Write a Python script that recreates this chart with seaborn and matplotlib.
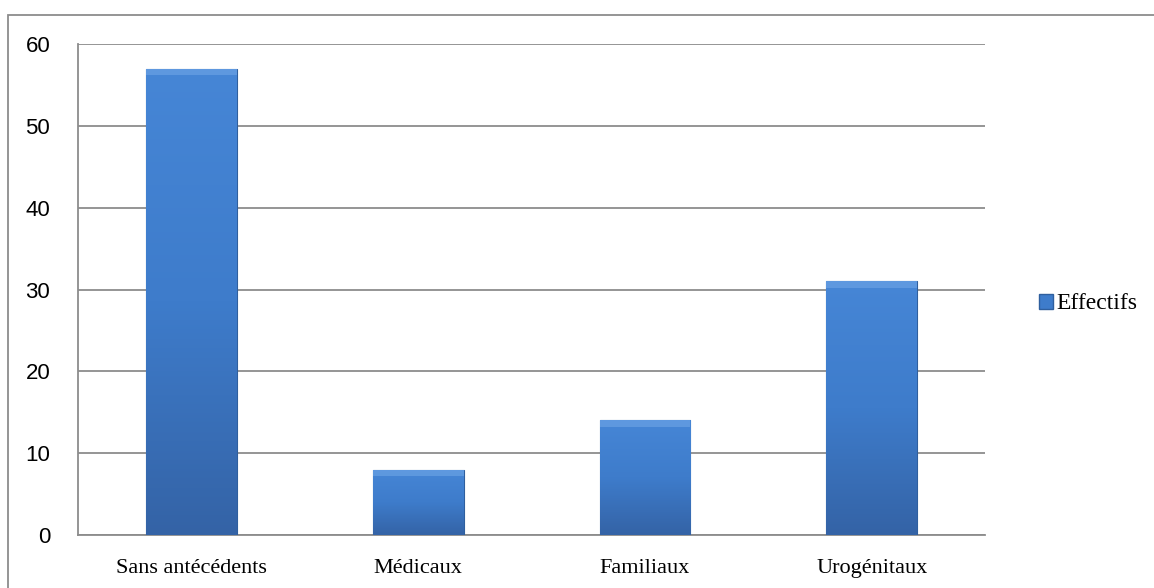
import numpy as np
import pandas as pd
import matplotlib
matplotlib.use("Agg")
import matplotlib.pyplot as plt
from matplotlib.patches import Rectangle
from matplotlib.colors import LinearSegmentedColormap
import seaborn as sns

categories = ["Sans antécédents", "Médicaux", "Familiaux", "Urogénitaux"]
effectifs = [57, 8, 14, 31]
series_name = "Effectifs"
yticks = [0, 10, 20, 30, 40, 50, 60]

df = pd.DataFrame({"cat": categories, "val": effectifs})

sns.set_style("white")
plt.rcParams["text.color"] = "black"
plt.rcParams["xtick.labelcolor"] = "black"
plt.rcParams["ytick.labelcolor"] = "black"

fig = plt.figure(figsize=(11.54, 5.88), dpi=100)
ax = fig.add_axes([0.0676, 0.0901, 0.786, 0.835])

sns.barplot(data=df, x="cat", y="val", ax=ax, color="#3E7CCB", width=0.4,
            edgecolor="#2F5F9E", linewidth=0.8, zorder=3)

# gradient fill for bars
cmap = LinearSegmentedColormap.from_list("bar", ["#3463A6", "#3E7CCB", "#4686D6"])
grad = np.linspace(0, 1, 256).reshape(-1, 1)
for p in ax.patches:
    x0, y0 = p.get_x(), p.get_y()
    w, h = p.get_width(), p.get_height()
    im = ax.imshow(grad, cmap=cmap, origin="lower", aspect="auto",
                   extent=[x0, x0 + w, y0, y0 + h], zorder=3.5)
    im.set_clip_path(p)
    # light top bevel
    ax.add_patch(Rectangle((x0, y0 + h - 0.8), w, 0.8, color="#6FA6E6",
                           alpha=0.6, zorder=4, lw=0))

ax.set_xlim(-0.5, 3.5)
ax.set_ylim(0, 60)
ax.set_yticks(yticks)
ax.set_yticklabels([str(v) for v in yticks], fontsize=16, family="Liberation Sans")
ax.yaxis.grid(True, color="#8C8C8C", lw=1.3, zorder=0)
ax.set_axisbelow(True)

ax.set_xticks([-0.5, 0.5, 1.5, 2.5, 3.5])
ax.set_xticklabels([])
ax.set_xticks(range(len(categories)), minor=True)
ax.set_xticklabels(categories, minor=True, fontsize=16, family="Liberation Serif")
ax.tick_params(axis="x", which="major", length=7, color="#8C8C8C", width=1.3)
ax.tick_params(axis="x", which="minor", length=0, pad=17)
ax.tick_params(axis="y", length=8, color="#8C8C8C", width=1.3, pad=12)
ax.set_xlabel("")
ax.set_ylabel("")

for s in ["top", "right"]:
    ax.spines[s].set_visible(False)
for s in ["left", "bottom"]:
    ax.spines[s].set_color("#8C8C8C")
    ax.spines[s].set_linewidth(1.3)

# legend
handle = Rectangle((0, 0), 1, 1, facecolor="#3E7CCB", edgecolor="#2F5F9E")
fig.legend([handle], [series_name], loc="center left",
           bbox_to_anchor=(0.882, 0.483), frameon=False,
           prop={"family": "Liberation Serif", "size": 17},
           handlelength=0.6, handleheight=0.6, handletextpad=0.15)

# outer chart border
fig.patches.append(Rectangle((8 / 1154, -0.2), 1.2, 1.2 - 15 / 588,
                             transform=fig.transFigure, fill=False,
                             edgecolor="#8C8C8C", lw=1.3))

fig.savefig("out.png", dpi=100)
